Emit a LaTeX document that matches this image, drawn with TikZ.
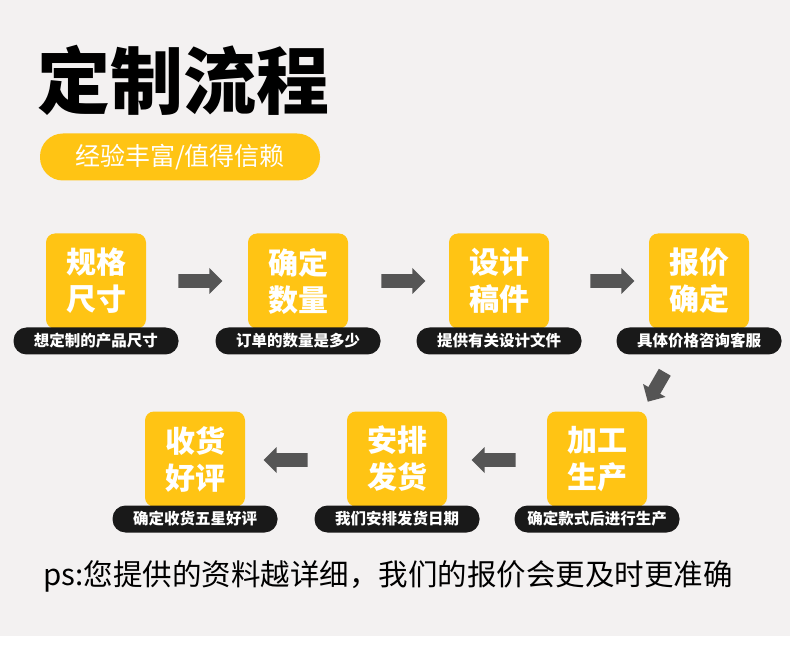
\documentclass[tikz,border=0pt]{standalone}
\usepackage{fontspec}
\setmainfont{Noto Sans CJK SC}
\usetikzlibrary{shapes.arrows}
\definecolor{stepyellow}{HTML}{FFC414}
\definecolor{bggray}{HTML}{F3F1F1}
\definecolor{arrowgray}{HTML}{555555}
\begin{document}
\begin{tikzpicture}[
        x = 1pt, y = -1pt, % pixel grid
        stage/.style = {fill = stepyellow, rounded corners = 9pt, minimum width = 100pt,
            minimum height = 95pt, align = center, text = white, font = \bfseries\fontsize{30}{37}\selectfont},
        tag/.style = {fill = black!90, rounded corners = 13pt, minimum width = 165pt,
            minimum height = 27pt, text = white, font = \bfseries\fontsize{15.5}{15.5}\selectfont},
        flow/.style = {single arrow, fill = arrowgray, minimum height = 44pt,
            minimum width = 26pt, single arrow head extend = 6pt, inner xsep = 0pt, inner ysep = 6.5pt}
    ]

    \fill[bggray] (0,0) rectangle (790,636);
    \fill[white] (0,636) rectangle (790,652);

    \node[anchor = west, font = \bfseries\fontsize{73}{73}\selectfont] (title) at (34,80) {定制流程};
    \node[fill = stepyellow, rounded corners = 23pt, minimum width = 280pt, minimum height = 47pt,
        text = white, font = \fontsize{25}{25}\selectfont] (motto) at (180,157) {经验丰富/值得信赖};

    % first row
    \node[stage] (size) at (96,281) {规格\\尺寸};
    \node[stage] (confirm) at (298,281) {确定\\数量};
    \node[stage] (design) at (499,281) {设计\\稿件};
    \node[stage] (quote) at (699,281) {报价\\确定};
    \node[tag] at (96,341) {想定制的产品尺寸};
    \node[tag] at (298,341) {订单的数量是多少};
    \node[tag] at (499,341) {提供有关设计文件};
    \node[tag] at (699,341) {具体价格咨询客服};

    % second row
    \node[stage] (review) at (195,459) {收货\\好评};
    \node[stage] (ship) at (397,459) {安排\\发货};
    \node[stage] (make) at (597,459) {加工\\生产};
    \node[tag] at (195,519) {确定收货五星好评};
    \node[tag] at (397,519) {我们安排发货日期};
    \node[tag] at (597,519) {确定款式后进行生产};

    \node[flow] at (197,281) {};
    \node[flow] at (400,281) {};
    \node[flow] at (609,281) {};
    \node[flow, rotate = -120, minimum height = 34pt] at (658,384) {};
    \node[flow, rotate = 180] at (289,460) {};
    \node[flow, rotate = 180] at (497,460) {};

    \node[anchor = west, font = \fontsize{29.5}{29.5}\selectfont] (note) at (40,576)
        {ps:您提供的资料越详细，我们的报价会更及时更准确};
\end{tikzpicture}
\end{document}
